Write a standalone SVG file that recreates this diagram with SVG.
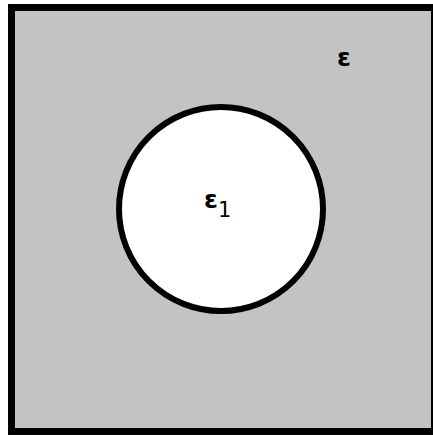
<svg xmlns="http://www.w3.org/2000/svg" width="433" height="436" viewBox="0 0 433 436">
<style>
.t{font-family:"DejaVu Sans",sans-serif;fill:#000}
.e{font-weight:bold;font-size:25px}
</style>
<rect width="433" height="436" fill="#fff"/>
<g id="region">
<rect x="11.5" y="7.5" width="423" height="424" fill="#c3c3c3" stroke="#000" stroke-width="7"/>
<text class="t e" x="337" y="66">ε</text>
</g>
<g id="inclusion">
<circle cx="221" cy="209" r="102" fill="#fff" stroke="#000" stroke-width="6"/>
<text class="t e" x="204" y="208">ε</text>
<text class="t" x="218" y="217" font-size="21">1</text>
</g>
</svg>
